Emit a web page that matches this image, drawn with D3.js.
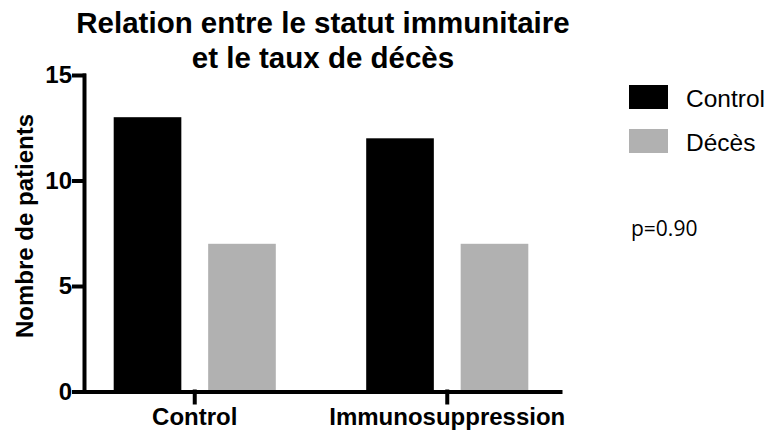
<!DOCTYPE html>
<html lang="fr">
<head>
    <meta charset="UTF-8">
    <title>Relation entre le statut immunitaire et le taux de décès</title>
    <style>
        body { margin: 0; background: #fff; }
        #chart { font-family: "Liberation Sans", Arial, sans-serif; }
        .axis path, .axis line { stroke: #000; stroke-width: 4; stroke-linecap: square; }
        .axis text { font-family: "Liberation Sans", Arial, sans-serif; font-size: 24px; font-weight: bold; fill: #000; }
    </style>
    <script src="https://d3js.org/d3.v7.min.js"></script>
</head>
<body>
    <div id="chart"></div>
    <script>
const categories = ["Control", "Immunosuppression"];
const series = ["Control", "Décès"];
const controlValues = [13, 12];
const decesValues = [7, 7];
const yTicks = [0, 5, 10, 15];
const colors = ["#000000", "#b1b1b1"];

const width = 768, height = 434;

const svg = d3.select("#chart")
    .append("svg")
    .attr("width", width)
    .attr("height", height);

// scales
const y = d3.scaleLinear()
    .domain([0, 15])
    .range([391.5, 75]);

const x0 = d3.scaleBand()
    .domain(categories)
    .range([82, 560])
    .paddingInner(0.358)
    .paddingOuter(0.1255);

const x1 = d3.scaleBand()
    .domain(series)
    .range([0, x0.bandwidth()])
    .paddingInner(0.284)
    .paddingOuter(0);

const rows = categories.map((c, i) => ({
    category: c,
    values: [
        {key: series[0], value: controlValues[i]},
        {key: series[1], value: decesValues[i]}
    ]
}));

// bars
const groups = svg.selectAll(".group")
    .data(rows)
    .enter().append("g")
    .attr("class", "group")
    .attr("transform", d => "translate(" + x0(d.category) + ",0)");

groups.selectAll("rect")
    .data(d => d.values)
    .enter().append("rect")
    .attr("x", d => x1(d.key))
    .attr("y", d => y(d.value))
    .attr("width", x1.bandwidth())
    .attr("height", d => y(0) - y(d.value))
    .attr("fill", (d, i) => colors[i]);

// axes
svg.append("g")
    .attr("class", "axis")
    .attr("transform", "translate(84,0)")
    .call(d3.axisLeft(y).tickValues(yTicks).tickSize(10).tickSizeOuter(0).tickPadding(2));

svg.append("g")
    .attr("class", "axis")
    .attr("transform", "translate(0," + y(0) + ")")
    .call(d3.axisBottom(x0).tickSize(11).tickSizeOuter(0).tickPadding(5));

// title
const title = svg.append("text")
    .attr("text-anchor", "middle")
    .attr("font-size", 29.5)
    .attr("font-weight", "bold");
title.append("tspan").attr("x", 323).attr("y", 33).text("Relation entre le statut immunitaire");
title.append("tspan").attr("x", 323).attr("y", 68).text("et le taux de décès");

// y label
svg.append("text")
    .attr("transform", "translate(33,226) rotate(-90)")
    .attr("text-anchor", "middle")
    .attr("font-size", 24)
    .attr("font-weight", "bold")
    .text("Nombre de patients");

// legend
const legend = svg.selectAll(".legend")
    .data(series)
    .enter().append("g")
    .attr("class", "legend")
    .attr("transform", (d, i) => "translate(629," + (85 + i * 44) + ")");

legend.append("rect")
    .attr("width", 39)
    .attr("height", 24)
    .attr("fill", (d, i) => colors[i]);

legend.append("text")
    .attr("x", 57)
    .attr("y", 22)
    .attr("font-size", 24.5)
    .text(d => d);

// p value
svg.append("text")
    .attr("x", 631)
    .attr("y", 236)
    .attr("font-family", "'Open Sans', sans-serif")
    .attr("font-size", 21)
    .text("p=0.90");
    </script>
</body>
</html>
